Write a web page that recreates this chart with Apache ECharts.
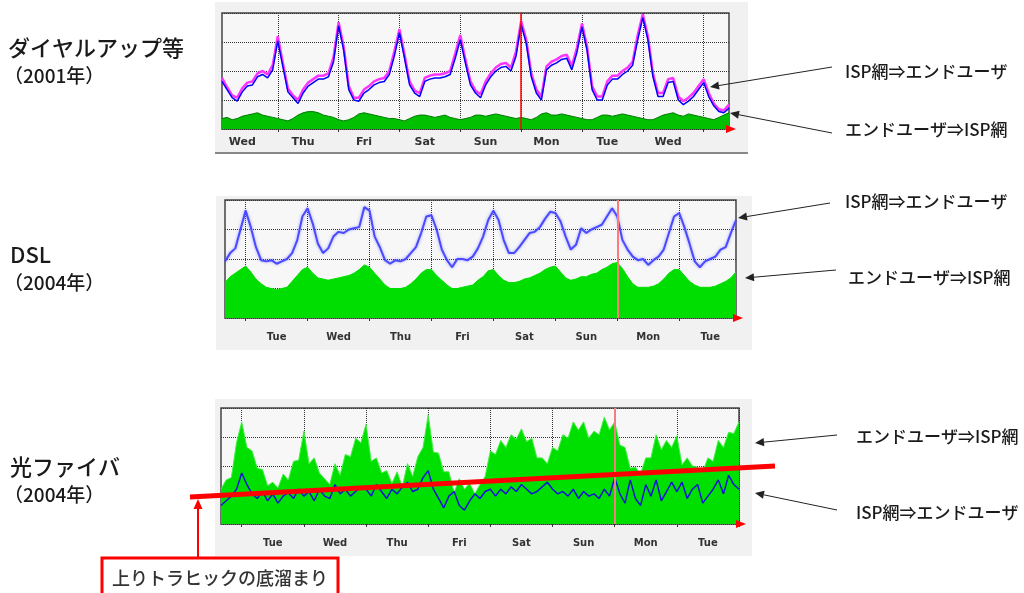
<!DOCTYPE html>
<html>
<head>
<meta charset="utf-8">
<script src="https://cdn.jsdelivr.net/npm/echarts@6/dist/echarts.min.js"></script>
<style>
  html, body { margin: 0; padding: 0; background: #fff; }
  #main { width: 1024px; height: 593px; }
</style>
</head>
<body>
<div id="main"></div>
<script>
// dial-up (2001): 2-hour samples from Wed 02:00
const dialDays = ['Wed', 'Thu', 'Fri', 'Sat', 'Sun', 'Mon', 'Tue', 'Wed', 'Thu']
const dialStartHour = 2
const dialDown = [
  41, 34, 27, 24, 32, 37, 38, 45, 47, 44, 51,
  76, 54, 32, 27, 22, 31, 37, 40, 43, 43, 45, 58,
  89, 68, 34, 25, 24, 31, 34, 38, 40, 41, 47, 63,
  83, 61, 38, 31, 28, 41, 43, 44, 44, 45, 47, 61,
  77, 57, 38, 31, 27, 38, 45, 50, 53, 54, 50, 63,
  90, 74, 45, 31, 25, 51, 55, 57, 60, 61, 51, 66,
  88, 68, 34, 25, 25, 38, 43, 43, 47, 50, 55, 77,
  96, 77, 45, 28, 28, 40, 41, 25, 21, 24, 28, 34,
  40, 28, 20, 15, 14, 18
]
const dialDownMax = [
  44, 36, 29, 27, 35, 40, 41, 48, 50, 47, 55,
  80, 57, 35, 29, 25, 34, 40, 43, 46, 46, 48, 62,
  92, 71, 37, 27, 27, 34, 37, 41, 43, 44, 50, 67,
  86, 64, 41, 33, 31, 44, 46, 47, 47, 48, 50, 65,
  81, 60, 41, 33, 30, 41, 48, 53, 56, 57, 53, 67,
  93, 77, 48, 34, 28, 54, 58, 60, 63, 64, 54, 70,
  91, 71, 37, 28, 28, 41, 46, 46, 50, 53, 58, 81,
  99, 80, 48, 31, 31, 43, 44, 28, 24, 27, 31, 37,
  43, 31, 22, 17, 16, 21
]
const dialUp = [
  9, 10, 8, 9, 11, 12, 13, 14, 12, 11, 10,
  9, 8, 7, 9, 12, 14, 15, 15, 14, 12, 11, 10,
  8, 7, 8, 10, 13, 14, 13, 12, 11, 10, 9, 9,
  8, 7, 9, 11, 12, 12, 11, 10, 11, 12, 10, 9,
  8, 9, 10, 12, 12, 11, 12, 13, 12, 11, 10, 9,
  10, 9, 8, 10, 13, 14, 12, 12, 13, 12, 11, 10,
  9, 8, 8, 10, 12, 12, 11, 12, 13, 12, 11, 10,
  9, 8, 8, 10, 12, 13, 14, 12, 11, 13, 12, 11,
  10, 9, 8, 10, 12, 14
]

// DSL (2004): 2-hour samples from Mon 16:00
const dslDays = ['Mon', 'Tue', 'Wed', 'Thu', 'Fri', 'Sat', 'Sun', 'Mon', 'Tue']
const dslStartHour = 16
const dslDown = [
  48, 55, 59, 75,
  91, 77, 60, 49, 48, 49, 46, 48, 50, 55, 66, 86,
  93, 80, 63, 55, 59, 69, 73, 72, 75, 76, 77, 94,
  91, 69, 60, 49, 46, 49, 48, 50, 55, 60, 72, 86,
  87, 75, 58, 49, 43, 50, 50, 49, 52, 59, 69, 83,
  91, 83, 66, 55, 55, 60, 66, 72, 73, 77, 84, 90,
  89, 82, 69, 58, 62, 76, 72, 75, 77, 79, 86, 93,
  86, 66, 58, 52, 49, 50, 45, 49, 52, 58, 72, 86,
  89, 77, 63, 48, 43, 48, 50, 52, 58, 60, 72, 83
]
const dslUp = [
  30, 35, 38, 41,
  44, 39, 33, 29, 26, 25, 24, 25, 26, 31, 36, 41,
  43, 38, 34, 33, 32, 33, 34, 35, 36, 38, 41, 45,
  43, 38, 33, 28, 25, 25, 25, 26, 29, 33, 38, 41,
  41, 36, 32, 28, 25, 25, 26, 27, 28, 32, 35, 40,
  41, 36, 32, 30, 30, 31, 33, 34, 36, 38, 41, 43,
  44, 39, 34, 32, 33, 35, 35, 37, 38, 41, 43, 46,
  47, 42, 35, 29, 26, 26, 26, 27, 29, 33, 38, 41,
  41, 36, 31, 28, 26, 26, 26, 27, 29, 31, 34, 39
]

// fibre (2004): 2-hour samples from Mon 16:00
const fiberDays = ['Mon', 'Tue', 'Wed', 'Thu', 'Fri', 'Sat', 'Sun', 'Mon', 'Tue', 'Wed']
const fiberStartHour = 16
const fiberDown = [
  16, 20, 24, 30,
  44, 34, 26, 22, 28, 20, 26, 18, 24, 27, 22, 30,
  24, 28, 20, 30, 24, 22, 34, 26, 30, 24, 28, 32,
  30, 24, 34, 28, 22, 30, 26, 32, 36, 28, 30, 40,
  46, 30, 22, 14, 24, 28, 16, 12, 20, 26, 22, 28,
  30, 24, 30, 26, 32, 28, 34, 30, 26, 28, 32, 36,
  30, 26, 28, 24, 30, 22, 28, 24, 26, 22, 30, 24,
  40, 26, 18, 38, 22, 16, 34, 24, 38, 20, 28, 36,
  28, 36, 22, 30, 34, 18, 24, 30, 38, 26, 42, 34,
  30
]
const fiberUp = [
  30, 38, 40, 70,
  88, 66, 63, 48, 47, 33, 36, 31, 43, 38, 54, 55,
  80, 52, 57, 44, 39, 34, 52, 42, 60, 58, 74, 70,
  86, 54, 57, 44, 46, 35, 45, 32, 52, 41, 58, 66,
  94, 62, 61, 45, 45, 27, 39, 30, 35, 26, 34, 41,
  63, 60, 72, 66, 77, 73, 82, 71, 74, 57, 57, 52,
  66, 63, 77, 74, 88, 81, 88, 74, 80, 77, 92, 81,
  88, 68, 66, 48, 49, 43, 57, 57, 77, 64, 72, 66,
  76, 51, 57, 50, 49, 45, 57, 54, 72, 66, 79, 78,
  88
]

const JP = '"Noto Sans CJK JP", "Noto Sans", sans-serif'

function buildCats(days, start, n) {
  const out = []
  for (let i = 0; i < n; i++) {
    const h = start + 2 * i
    out.push(days[Math.floor(h / 24)] + ' ' + (h % 24))
  }
  return out
}

function makeX(idx, days, start, n, labelHour, margin, fontSize) {
  const isDay = (i) => (start + 2 * i) % 24 === 0
  return {
    type: 'category',
    gridIndex: idx,
    data: buildCats(days, start, n),
    boundaryGap: false,
    axisLine: { show: false },
    axisTick: { show: true, interval: isDay, length: 3, lineStyle: { color: '#333' } },
    axisLabel: {
      // no label for the last, unfinished day
      interval: (i) => (start + 2 * i) % 24 === labelHour && i < n - 4,
      formatter: (v) => v.split(' ')[0],
      fontFamily: 'DejaVu Sans',
      fontWeight: 'bold',
      fontSize: fontSize,
      color: '#333',
      margin: margin
    },
    splitLine: { show: true, interval: isDay, lineStyle: { color: '#333', type: 'dotted', width: 1 } }
  }
}

function makeY(idx) {
  return {
    type: 'value',
    gridIndex: idx,
    min: 0,
    max: 100,
    interval: 25,
    axisLine: { show: false },
    axisTick: { show: false },
    axisLabel: { show: false },
    splitLine: { lineStyle: { color: '#333', type: 'dotted', width: 1 } }
  }
}

function redMark(index, color, width) {
  return {
    silent: true,
    symbol: ['none', 'none'],
    label: { show: false },
    lineStyle: { color: color, type: 'solid', width: width },
    data: [{ xAxis: index }]
  }
}

function arrow(x1, y1, x2, y2, color, w, head) {
  const a = Math.atan2(y2 - y1, x2 - x1)
  const bx = x2 - head * Math.cos(a)
  const by = y2 - head * Math.sin(a)
  const px = Math.sin(a) * head * 0.45
  const py = -Math.cos(a) * head * 0.45
  return [
    { type: 'line', z: 100, shape: { x1: x1, y1: y1, x2: bx, y2: by }, style: { stroke: color, lineWidth: w } },
    { type: 'polygon', z: 100, shape: { points: [[x2, y2], [bx + px, by + py], [bx - px, by - py]] }, style: { fill: color } }
  ]
}

function label(text, x, y, size) {
  return {
    type: 'text', z: 100,
    style: { text: text, x: x, y: y, font: '500 ' + size + 'px ' + JP, fill: '#1a1a1a', verticalAlign: 'middle', textVerticalAlign: 'middle' }
  }
}

function axisArrow(x, y) {
  return {
    type: 'polygon', z: 100,
    shape: { points: [[x - 3, y - 4], [x + 7, y], [x - 3, y + 4]] },
    style: { fill: '#ff0000' }
  }
}

const chart = echarts.init(document.getElementById('main'), null, { renderer: 'canvas' })

const gridBase = { show: true, backgroundColor: '#f7f7f7', borderColor: '#444', borderWidth: 1.5 }

chart.setOption({
  animation: false,
  grid: [
    Object.assign({ left: 222, top: 13, width: 507, height: 116 }, gridBase),
    Object.assign({ left: 225, top: 200, width: 511, height: 118 }, gridBase),
    Object.assign({ left: 221, top: 408, width: 518, height: 116 }, gridBase)
  ],
  xAxis: [
    makeX(0, dialDays, dialStartHour, dialDown.length, 10, 8, 11),
    makeX(1, dslDays, dslStartHour, dslDown.length, 12, 14, 10),
    makeX(2, fiberDays, fiberStartHour, fiberDown.length, 12, 14, 10)
  ],
  yAxis: [makeY(0), makeY(1), makeY(2)],
  series: [
    {
      name: 'dial up', type: 'line', xAxisIndex: 0, yAxisIndex: 0, data: dialUp,
      symbol: 'none', lineStyle: { color: '#007a00', width: 1 },
      areaStyle: { color: '#00c000', opacity: 1 }
    },
    {
      name: 'dial down max', type: 'line', xAxisIndex: 0, yAxisIndex: 0, data: dialDownMax,
      symbol: 'none', lineStyle: { color: '#ff33ff', width: 2.5 }
    },
    {
      name: 'dial down', type: 'line', xAxisIndex: 0, yAxisIndex: 0, data: dialDown,
      symbol: 'none', lineStyle: { color: '#0000ff', width: 1.5 },
      markLine: redMark(59, '#ff0000', 1.5)
    },
    {
      name: 'dsl up', type: 'line', xAxisIndex: 1, yAxisIndex: 1, data: dslUp,
      symbol: 'none', lineStyle: { color: '#00dd00', width: 1 },
      areaStyle: { color: '#00dd00', opacity: 1 }
    },
    {
      name: 'dsl down', type: 'line', xAxisIndex: 1, yAxisIndex: 1, data: dslDown,
      symbol: 'none',
      lineStyle: { color: '#4a4aff', width: 2, shadowBlur: 3, shadowColor: 'rgba(90,90,255,0.6)' },
      markLine: redMark(76, '#ff7a7a', 2)
    },
    {
      name: 'fiber up', type: 'line', xAxisIndex: 2, yAxisIndex: 2, data: fiberUp,
      symbol: 'none', lineStyle: { color: '#44ee44', width: 1 },
      areaStyle: { color: '#00e000', opacity: 1 }
    },
    {
      name: 'fiber down', type: 'line', xAxisIndex: 2, yAxisIndex: 2, data: fiberDown,
      symbol: 'none', lineStyle: { color: '#1414d4', width: 1.5 },
      markLine: redMark(76, '#f08080', 2)
    }
  ],
  graphic: [
    // chart panels
    { type: 'rect', z: -10, shape: { x: 215, y: 2, width: 533, height: 151 }, style: { fill: '#f1f1f1' } },
    { type: 'rect', z: -10, shape: { x: 215, y: 152, width: 533, height: 2 }, style: { fill: '#888' } },
    { type: 'rect', z: -10, shape: { x: 216, y: 196, width: 536, height: 154 }, style: { fill: '#f1f1f1' } },
    { type: 'rect', z: -10, shape: { x: 215, y: 399, width: 537, height: 157 }, style: { fill: '#f1f1f1' } },
    axisArrow(729, 129),
    axisArrow(736, 318),
    axisArrow(739, 524),

    // left titles
    label('ダイヤルアップ等', 8, 48, 22),
    label('（2001年）', 4, 76, 19),
    label('DSL', 10, 255, 22),
    label('（2004年）', 4, 283, 19),
    label('光ファイバ', 10, 467, 22),
    label('（2004年）', 4, 495, 19),

    // right labels
    label('ISP網⇒エンドユーザ', 845, 72, 17),
    label('エンドユーザ⇒ISP網', 845, 130, 17),
    label('ISP網⇒エンドユーザ', 845, 202, 17),
    label('エンドユーザ⇒ISP網', 848, 278, 17),
    label('エンドユーザ⇒ISP網', 856, 437, 17),
    label('ISP網⇒エンドユーザ', 856, 513, 17),
    ...arrow(832, 67, 710, 87, '#222', 1, 9),
    ...arrow(832, 133, 730, 113, '#222', 1, 9),
    ...arrow(830, 203, 738, 218, '#222', 1, 9),
    ...arrow(836, 270, 745, 278, '#222', 1, 9),
    ...arrow(837, 435, 755, 443, '#222', 1, 9),
    ...arrow(837, 510, 755, 493, '#222', 1, 9),

    // floor of upstream traffic
    { type: 'line', z: 110, shape: { x1: 190, y1: 497, x2: 775, y2: 466 }, style: { stroke: '#ff0000', lineWidth: 5 } },
    ...arrow(198, 558, 198, 499, '#ff0000', 2, 10),
    { type: 'rect', z: 110, shape: { x: 102, y: 558, width: 236, height: 45 }, style: { fill: '#fff', stroke: '#ff0000', lineWidth: 3 } },
    {
      type: 'text', z: 120,
      style: { text: '上りトラヒックの底溜まり', x: 112, y: 578, font: '500 18px ' + JP, fill: '#333', verticalAlign: 'middle', textVerticalAlign: 'middle' }
    }
  ]
})
</script>
</body>
</html>
